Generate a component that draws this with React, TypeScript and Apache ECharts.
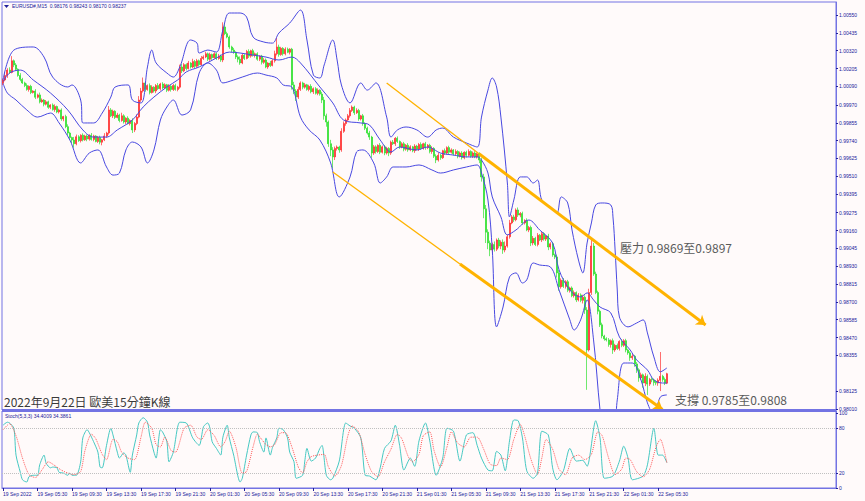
import React, { useEffect, useRef } from 'react';
import * as echarts from 'echarts';

// prices are stored as points above 0.98000 (1 point = 0.00001)
const BASE = 0.98;
const firstOpen = 2110;

const closes = [
  2131,2160,2195,2180,2255,2228,2200,2160,2135,2112,
  2095,2070,2090,2050,2060,2020,2035,1990,2002,1975,
  1990,1955,1970,1940,1960,1925,1938,1880,1895,1830,
  1789,1760,1744,1720,1765,1740,1775,1745,1770,1750,
  1775,1748,1770,1735,1760,1730,1745,1770,1789,1938,
  1900,1930,1890,1905,1870,1900,1860,1885,1850,1870,
  1809,1850,1892,2002,2060,2112,2070,2095,2050,2085,
  2060,2095,2075,2105,2080,2100,2065,2090,2070,2095,
  2070,2085,2215,2190,2230,2205,2240,2215,2250,2220,
  2255,2230,2270,2280,2300,2265,2295,2275,2300,2270,
  2285,2260,2473,2430,2408,2344,2324,2310,2280,2265,
  2241,2290,2270,2315,2285,2320,2290,2300,2265,2285,
  2245,2260,2215,2240,2225,2255,2300,2344,2295,2335,
  2300,2330,2310,2330,2099,2060,2021,2070,2112,2085,
  2100,2070,2090,2055,2075,2045,2065,2040,2002,1900,
  1860,1720,1680,1635,1690,1699,1680,1800,1850,1873,
  1900,1935,1957,1920,1935,1880,1900,1850,1820,1789,
  1763,1660,1700,1670,1710,1665,1700,1660,1690,1660,
  1730,1720,1755,1735,1699,1720,1685,1710,1680,1700,
  1675,1705,1685,1715,1690,1720,1695,1710,1670,1690,
  1640,1615,1645,1630,1675,1660,1695,1665,1680,1655,
  1670,1640,1660,1630,1665,1645,1670,1640,1660,1635,
  1655,1615,1506,1300,1150,1080,1035,1070,1040,1099,
  1060,1085,1035,1060,1120,1209,1248,1230,1293,1260,
  1270,1209,1225,1164,1180,1080,1110,1070,1130,1100,
  1140,1105,1125,1054,1075,1003,990,887,797,840,
  800,830,775,790,740,760,713,745,710,730,
  648,390,760,1060,880,760,640,552,480,462,
  455,425,450,390,420,400,445,420,450,390,
  371,340,350,300,262,210,230,177,220,170,
  200,197,180,177,195,220,200,176,237,
];

const wickUp = [
  10,25,12,18,30,8,12,6,15,10,8,14,6,10,5,12,8,15,10,6,
  12,8,5,10,14,6,8,10,5,12,15,8,6,20,14,10,6,12,8,10,
  6,14,8,5,10,12,6,18,8,25,12,10,6,14,8,20,10,6,12,8,
  14,10,18,25,20,35,10,8,14,12,6,10,16,8,12,10,6,14,8,10,
  12,8,15,20,10,8,14,6,18,10,12,8,16,10,14,8,12,6,10,8,
  14,10,30,25,12,10,8,14,6,10,18,12,8,10,14,6,12,8,10,6,
  8,12,10,6,14,10,20,60,15,10,8,12,10,6,8,20,12,18,10,8,
  12,6,10,14,8,10,12,6,15,20,14,10,25,18,12,10,8,20,14,10,
  12,15,10,8,14,10,6,12,8,10,14,8,12,10,6,14,8,12,10,8,
  10,14,8,12,6,10,12,8,14,10,6,12,8,10,14,6,12,8,10,14,
  8,12,18,10,6,14,8,12,10,6,14,8,10,12,6,10,14,8,10,12,
  8,10,15,20,25,18,15,12,20,10,14,12,18,30,15,20,12,14,10,16,
  10,12,8,14,10,12,15,10,14,8,12,10,6,14,10,12,8,15,20,12,
  14,10,12,8,10,14,8,12,10,16,12,18,25,40,20,15,12,10,14,8,
  10,12,8,14,10,12,8,15,10,12,8,10,14,8,12,10,14,8,20,12,
  10,14,8,16,12,157,10,12,6,
];

const wickDn = [
  12,8,15,10,6,14,10,8,12,6,10,8,14,10,6,12,8,10,6,14,
  8,10,12,6,14,8,10,12,15,10,18,12,20,25,10,8,12,10,6,14,
  10,8,12,6,10,14,20,8,12,10,8,14,10,6,12,8,10,14,6,12,
  20,14,10,8,12,10,14,8,12,6,10,14,8,12,10,6,12,8,14,10,
  8,12,10,14,8,12,6,10,8,14,10,12,6,10,8,12,10,14,6,10,
  8,12,14,10,8,12,15,10,14,20,12,8,10,6,12,10,8,14,10,12,
  14,10,8,12,10,6,12,10,14,8,12,10,6,14,30,20,25,12,10,14,
  10,8,12,10,14,8,12,10,20,25,30,20,40,75,20,14,18,12,10,14,
  8,12,10,14,8,12,10,14,12,10,18,30,12,14,10,12,8,14,10,20,
  12,8,14,10,12,8,14,10,12,8,10,14,8,12,10,8,14,10,12,15,
  12,20,10,14,8,12,10,14,8,12,10,14,8,12,10,14,8,10,12,8,
  10,20,30,60,70,40,40,20,15,12,14,20,25,15,10,12,8,14,10,12,
  14,12,10,8,14,20,15,10,12,8,14,10,12,20,15,12,14,30,25,12,
  10,14,12,15,10,12,14,10,12,20,25,257,10,15,12,10,20,14,15,12,
  10,14,20,25,12,10,14,12,10,15,12,20,14,18,20,25,14,30,20,70,
  12,15,20,14,18,70,15,12,6,
];

// Bollinger bands: [bar index, points]
const upperBand = [
  [0,2131],[5,2324],[14,2344],[19,2279],[23,2150],[30,2086],[32,2099],[36,2002],[37,1854],[42,1854],
  [46,1918],[50,2021],[52,2086],[58,2099],[60,2002],[64,1983],[67,2215],[69,2324],[71,2241],[76,2176],
  [79,2150],[82,2215],[87,2389],[90,2369],[91,2305],[95,2324],[99,2311],[102,2453],[105,2563],[110,2563],
  [113,2537],[116,2408],[121,2376],[125,2369],[128,2434],[133,2498],[138,2582],[141,2389],[144,2163],[147,2144],
  [149,2228],[153,2389],[155,2260],[157,2099],[161,1983],[166,2112],[169,2066],[173,2112],[178,1892],[180,1763],
  [183,1809],[187,1828],[192,1809],[197,1763],[201,1809],[204,1821],[209,1763],[215,1725],[220,1699],[222,1892],
  [225,2066],[227,2144],[229,2086],[231,1892],[234,1467],[235,1248],[237,1357],[240,1506],[243,1506],[246,1467],
  [248,1486],[250,1357],[254,1312],[257,1273],[259,1377],[262,1338],[264,1164],[267,970],[269,887],[271,1080],
  [273,1209],[275,1325],[278,1338],[282,1325],[283,1248],[284,1035],[285,777],[286,603],[290,539],[294,564],
  [297,584],[299,500],[302,345],[305,249],[308,274],
];
const middleBand = [
  [0,2120],[3,2176],[8,2195],[14,2131],[22,2047],[30,1938],[37,1809],[42,1763],[48,1763],[53,1809],
  [60,1873],[65,1957],[70,2021],[76,2086],[81,2131],[85,2183],[91,2215],[99,2273],[105,2311],[110,2305],
  [116,2292],[122,2279],[128,2260],[134,2279],[138,2241],[147,2086],[153,1983],[158,1873],[166,1854],[170,1841],
  [175,1744],[180,1667],[184,1699],[192,1680],[197,1699],[203,1660],[209,1647],[215,1635],[220,1635],[222,1615],
  [225,1531],[227,1377],[231,1248],[234,1132],[238,1164],[244,1228],[249,1164],[255,1080],[258,906],[263,777],
  [268,732],[271,758],[274,713],[277,667],[282,629],[286,474],[291,390],[294,326],[299,261],[302,197],
  [306,177],[308,177],
];
const lowerBand = [
  [0,2110],[2,2047],[6,2002],[11,1938],[16,1892],[22,1918],[26,1854],[31,1744],[36,1596],[40,1660],
  [44,1680],[48,1570],[51,1518],[54,1531],[57,1680],[60,1731],[64,1699],[67,1596],[70,1680],[73,1873],
  [76,1957],[79,2002],[83,1905],[87,1938],[91,2176],[95,2241],[99,2195],[102,2112],[107,2131],[111,2150],
  [118,2176],[122,2163],[127,2144],[130,2099],[134,2086],[138,1892],[142,1809],[147,1744],[152,1596],[156,1377],
  [161,1506],[164,1667],[167,1680],[172,1596],[175,1467],[178,1506],[181,1570],[187,1570],[193,1583],[199,1551],
  [203,1531],[209,1551],[215,1570],[220,1583],[222,1531],[225,1357],[227,1035],[229,539],[232,667],[235,861],
  [238,887],[241,822],[243,842],[246,951],[249,938],[254,925],[258,777],[263,584],[265,519],[268,584],
  [271,713],[274,455],[277,3],[279,-190],[283,-190],[285,68],[288,306],[292,306],[296,197],[299,49],
  [302,-29],[305,87],[308,100],
];

// Stochastic(5,3,3): [bar index, value]
const stochMain = [
  [0,84],[2,88],[3,87],[5,80],[6,44],[8,21],[9,11],[11,8],[12,15],[14,17],[16,17],[17,31],[19,44],[20,33],
  [22,27],[23,28],[25,27],[26,21],[28,20],[30,17],[31,20],[32,17],[34,17],[36,35],[37,67],[39,78],[40,74],
  [42,62],[44,48],[45,28],[46,27],[48,57],[50,80],[51,71],[53,48],[54,40],[56,47],[57,44],[59,21],[60,44],
  [62,71],[63,87],[65,94],[67,88],[68,71],[70,48],[71,40],[73,78],[74,75],[76,62],[77,35],[79,48],[82,88],
  [85,87],[88,67],[91,57],[93,82],[95,87],[96,80],[97,62],[99,53],[101,44],[102,68],[104,84],[105,67],
  [107,44],[110,8],[111,13],[113,44],[115,71],[116,75],[118,74],[119,62],[121,48],[122,67],[124,44],
  [125,54],[127,67],[128,80],[130,78],[132,67],[133,48],[135,35],[136,13],[139,17],[140,36],[141,53],
  [143,36],[145,40],[147,53],[148,57],[150,17],[152,11],[153,13],[156,36],[159,87],[161,83],[163,80],
  [166,67],[168,17],[170,16],[173,11],[175,27],[177,53],[180,63],[182,84],[184,57],[186,24],[189,40],
  [191,29],[193,63],[196,87],[198,63],[201,17],[204,40],[206,80],[209,76],[212,36],[215,71],[218,74],
  [220,57],[222,40],[225,24],[227,23],[229,49],[231,44],[233,23],[235,63],[237,91],[239,90],[241,67],
  [243,23],[246,13],[248,20],[250,76],[253,71],[255,27],[257,11],[260,23],[263,53],[266,36],[269,37],
  [271,29],[275,90],[277,67],[279,13],[283,16],[286,36],[288,56],[290,40],[292,11],[297,16],[299,31],
  [302,80],[304,44],[306,44],[308,34],
];
const stochSignal = [
  [0,78],[3,86],[6,70],[9,40],[12,18],[15,14],[18,24],[21,35],[24,30],[27,24],[30,20],[33,18],[36,22],
  [38,50],[41,72],[43,66],[46,45],[48,38],[51,65],[53,62],[55,48],[58,40],[61,38],[64,68],[66,88],[69,80],
  [71,58],[73,55],[75,68],[78,50],[80,48],[84,80],[87,84],[90,68],[92,65],[95,78],[98,70],[101,55],
  [103,62],[105,76],[108,55],[111,20],[113,22],[116,55],[118,72],[120,65],[122,58],[124,55],[126,58],
  [129,74],[131,74],[134,55],[137,28],[139,20],[141,35],[143,42],[146,44],[149,45],[151,28],[154,16],
  [157,30],[160,70],[162,83],[165,75],[168,45],[171,22],[174,15],[177,35],[180,52],[183,72],[185,66],
  [188,42],[190,35],[193,45],[195,70],[198,75],[200,50],[203,28],[206,55],[208,75],[211,60],[214,55],
  [217,68],[220,68],[223,52],[226,32],[229,30],[231,40],[234,38],[237,65],[240,85],[242,70],[245,38],
  [248,18],[250,40],[252,65],[255,52],[258,25],[261,18],[264,40],[267,44],[270,38],[273,45],[276,75],
  [278,70],[281,40],[284,18],[287,25],[289,40],[291,38],[294,22],[297,15],[300,25],[303,55],[305,65],[308,34],
];

const timeLabels = [
  '19 Sep 2022','19 Sep 05:30','19 Sep 09:30','19 Sep 13:30','19 Sep 17:30','19 Sep 21:30',
  '20 Sep 01:30','20 Sep 05:30','20 Sep 09:30','20 Sep 13:30','20 Sep 17:30','20 Sep 21:30',
  '21 Sep 01:30','21 Sep 05:30','21 Sep 09:30','21 Sep 13:30','21 Sep 17:30','21 Sep 21:30',
  '22 Sep 01:30','22 Sep 05:30',
];
const barsPerLabel = 16;
const slotCount = 387;

const priceTicks = [2550,2435,2320,2205,2090,1970,1855,1740,1625,1510,1395,1275,1160,1045,930,815,700,585,470,355,125,10];
const stochTicks = [0, 20, 80, 100];
const stochLevels = [20, 80];
const lastPrice = 237;
const headerText = 'EURUSD#,M15  0.98176 0.98243 0.98170 0.98237';
const stochText = 'Stoch(5,3,3) 34.4009 34.3861';
const titleText = '2022年9月22日 歐美15分鐘K線';
const resistText = '壓力 0.9869至0.9897';
const supportText = '支撐 0.9785至0.9808';

// channel lines: [bar index, points]
const upperChannel = [[178, 2112], [221, 1654], [326, 551]];
const lowerChannel = [[153, 1538], [212, 945], [306, 6]];

const SMALL = "'Liberation Sans', Arial, sans-serif";
const CJK = "'Noto Sans CJK TC', 'Noto Sans', sans-serif";
const NAVY = '#20209a';
const FRAME = '#7373e3';
const ORANGE = '#ffb300';

function buildOption() {
  const candles = closes.map((c, i) => {
    const o = i === 0 ? firstOpen : closes[i - 1];
    const hi = Math.max(o, c) + (wickUp[i] || 0);
    const lo = Math.min(o, c) - (wickDn[i] || 0);
    return [o, c, lo, hi];
  });
  const categories = Array.from({ length: slotCount }, (_, i) => {
    const k = i / barsPerLabel;
    return i % barsPerLabel === 0 && k < timeLabels.length ? timeLabels[k] : 'b' + i;
  });
  const showLabel = (idx: number) => idx % barsPerLabel === 0 && idx / barsPerLabel < timeLabels.length;
  const priceFmt = (v: number) => (BASE + v / 1e5).toFixed(5);

  const bandStyle = { color: '#4848e0', width: 1 };
  const seg = (a: number[], b: number[], width: number, arrow: boolean) => [
    { coord: a, symbol: 'none', lineStyle: { color: ORANGE, width, type: 'solid' } },
    { coord: b, symbol: arrow ? 'arrow' : 'none', symbolSize: arrow ? 9 : 0 },
  ];

  return {
    animation: false,
    backgroundColor: '#fffafa',
    grid: [
      { left: 2, right: 29, top: 2, height: 408, show: true, borderColor: FRAME, borderWidth: 1, backgroundColor: 'transparent' },
      { left: 2, right: 29, top: 411, height: 77, show: true, borderColor: FRAME, borderWidth: 1, backgroundColor: 'transparent' },
    ],
    xAxis: [
      {
        type: 'category', gridIndex: 0, data: categories, boundaryGap: true,
        axisLine: { show: false }, axisTick: { show: false }, axisLabel: { show: false }, splitLine: { show: false },
      },
      {
        type: 'category', gridIndex: 1, data: categories, boundaryGap: true,
        axisLine: { show: true, lineStyle: { color: FRAME } },
        axisTick: { show: true, interval: showLabel, alignWithLabel: true, length: 3, lineStyle: { color: NAVY } },
        axisLabel: { interval: showLabel, align: 'left', fontSize: 5, color: NAVY, margin: 3, fontFamily: SMALL },
        splitLine: { show: false },
      },
    ],
    yAxis: [
      {
        type: 'value', gridIndex: 0, position: 'right', min: 3, max: 2634, scale: true,
        axisLine: { show: true, lineStyle: { color: FRAME } },
        axisTick: { show: true, customValues: priceTicks, length: 2, lineStyle: { color: NAVY } },
        axisLabel: { customValues: priceTicks, formatter: priceFmt, fontSize: 5, color: NAVY, margin: 3, fontFamily: SMALL },
        splitLine: { show: false },
      },
      {
        type: 'value', gridIndex: 1, position: 'right', min: 0, max: 103,
        axisLine: { show: true, lineStyle: { color: FRAME } },
        axisTick: { show: true, customValues: stochTicks, length: 2, lineStyle: { color: NAVY } },
        axisLabel: { customValues: stochTicks, fontSize: 5, color: NAVY, margin: 3, fontFamily: SMALL },
        splitLine: { show: false },
      },
    ],
    series: [
      {
        type: 'candlestick', xAxisIndex: 0, yAxisIndex: 0, data: candles, barWidth: 1.5,
        itemStyle: { color: '#ff0000', color0: '#00e000', borderColor: '#ff3030', borderColor0: '#30e030', borderWidth: 0.7 },
        markLine: {
          silent: true, animation: false, symbol: ['none', 'none'], label: { show: false },
          data: [
            seg(upperChannel[0], upperChannel[1], 1.3, false),
            seg(upperChannel[1], upperChannel[2], 3, true),
            seg(lowerChannel[0], lowerChannel[1], 1.3, false),
            seg(lowerChannel[1], lowerChannel[2], 3, true),
          ],
        },
      },
      { type: 'line', xAxisIndex: 0, yAxisIndex: 0, data: upperBand, smooth: 0.35, symbol: 'none', lineStyle: bandStyle, clip: true },
      {
        type: 'line', xAxisIndex: 0, yAxisIndex: 0, data: middleBand, smooth: 0.35, symbol: 'none', lineStyle: bandStyle, clip: true,
        markLine: {
          silent: true, animation: false, symbol: ['none', 'none'],
          lineStyle: { opacity: 0, width: 0 },
          label: {
            show: true, position: 'end', distance: 1, formatter: priceFmt(lastPrice),
            backgroundColor: '#1c1c9e', color: '#ffffff', fontSize: 5, padding: [1, 2], fontFamily: SMALL,
          },
          data: [{ yAxis: lastPrice }],
        },
      },
      { type: 'line', xAxisIndex: 0, yAxisIndex: 0, data: lowerBand, smooth: 0.35, symbol: 'none', lineStyle: bandStyle, clip: true },
      {
        type: 'line', xAxisIndex: 1, yAxisIndex: 1, data: stochMain, smooth: 0.25, symbol: 'none',
        lineStyle: { color: '#46c8c2', width: 1 },
        markLine: {
          silent: true, animation: false, symbol: ['none', 'none'], label: { show: false },
          lineStyle: { color: '#c0c0c0', type: 'dotted', width: 1 },
          data: stochLevels.map((v) => ({ yAxis: v })),
        },
      },
      {
        type: 'line', xAxisIndex: 1, yAxisIndex: 1, data: stochSignal, smooth: 0.25, symbol: 'none',
        lineStyle: { color: '#ff5a5a', width: 1, type: 'dotted' },
      },
    ],
    graphic: [
      { type: 'rect', shape: { x: 2, y: 409, width: 834, height: 3 }, style: { fill: FRAME }, z: 10 },
      { type: 'polygon', shape: { points: [[4, 5], [9, 5], [6.5, 8]] }, style: { fill: NAVY }, z: 10 },
      { type: 'text', x: 12, y: 3, style: { text: headerText, fontSize: 5, fill: NAVY, fontFamily: SMALL }, z: 10 },
      { type: 'text', x: 5, y: 413, style: { text: stochText, fontSize: 5, fill: NAVY, fontFamily: SMALL }, z: 10 },
      { type: 'text', x: 4, y: 395, style: { text: titleText, fontSize: 12, fill: '#3a3a3a', fontFamily: CJK }, z: 10 },
      { type: 'text', x: 620, y: 241, style: { text: resistText, fontSize: 12, fill: '#5a5a5a', fontFamily: CJK }, z: 10 },
      { type: 'text', x: 675, y: 393, style: { text: supportText, fontSize: 12, fill: '#5a5a5a', fontFamily: CJK }, z: 10 },
    ],
  };
}

export default function App() {
  const ref = useRef<HTMLDivElement>(null);
  useEffect(() => {
    if (!ref.current) return;
    const chart = echarts.init(ref.current, undefined, { renderer: 'svg' });
    chart.setOption(buildOption() as any);
    return () => chart.dispose();
  }, []);
  return <div ref={ref} style={{ position: 'fixed', left: 0, top: 0, width: 865, height: 501 }} />;
}
